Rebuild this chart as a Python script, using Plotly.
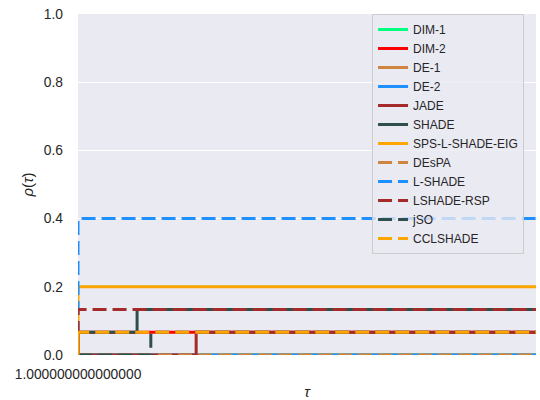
import plotly.graph_objects as go

# Performance profile: each solver's rho(tau) as a right-continuous step function.
tau_min = 1.0
tau_max = 2.0

names = ["DIM-1", "DIM-2", "DE-1", "DE-2", "JADE", "SHADE", "SPS-L-SHADE-EIG",
         "DEsPA", "L-SHADE", "LSHADE-RSP", "jSO", "CCLSHADE"]

# breakpoints (tau) and the profile value reached at each breakpoint
dim1_tau, dim1_rho = [1.0], [0.0]
dim2_tau, dim2_rho = [1.0], [0.0667]
de1_tau, de1_rho = [1.0], [0.0]
de2_tau, de2_rho = [1.0], [0.0]
jade_tau, jade_rho = [1.0, 1.258], [0.0, 0.0667]
shade_tau, shade_rho = [1.0, 1.129], [0.0667, 0.1333]
sps_tau, sps_rho = [1.0], [0.2]
despa_tau, despa_rho = [1.0], [0.0]
lshade_tau, lshade_rho = [1.0], [0.4]
lshadersp_tau, lshadersp_rho = [1.0], [0.1333]
jso_tau, jso_rho = [1.0, 1.159], [0.0, 0.0667]
ccl_tau, ccl_rho = [1.0], [0.0667]

all_tau = [dim1_tau, dim2_tau, de1_tau, de2_tau, jade_tau, shade_tau, sps_tau,
           despa_tau, lshade_tau, lshadersp_tau, jso_tau, ccl_tau]
all_rho = [dim1_rho, dim2_rho, de1_rho, de2_rho, jade_rho, shade_rho, sps_rho,
           despa_rho, lshade_rho, lshadersp_rho, jso_rho, ccl_rho]

colors = ["#00FF7F", "#FF0000", "#CD853F", "#1E90FF", "#A52A2A", "#2F4F4F", "#FFA500",
          "#CD853F", "#1E90FF", "#A52A2A", "#2F4F4F", "#FFA500"]
dashes = ["solid"] * 7 + ["14px,6px"] * 5

y_ticks = [0.0, 0.2, 0.4, 0.6, 0.8, 1.0]

fig = go.Figure()
for name, t, r, c, d in zip(names, all_tau, all_rho, colors, dashes):
    xs = [tau_min] + list(t) + [tau_max]
    ys = [0.0] + list(r) + [r[-1]]
    fig.add_trace(go.Scatter(
        x=xs, y=ys, mode="lines", name=name,
        line=dict(color=c, width=3, dash=d, shape="hv"),
    ))

font_family = "Liberation Sans, Arial, DejaVu Sans, sans-serif"
fig.update_layout(
    width=540, height=400,
    margin=dict(l=78, r=4, t=14, b=45),
    paper_bgcolor="white",
    plot_bgcolor="#EAEAF2",
    font=dict(family=font_family, size=13.8, color="#262626"),
    showlegend=True,
    legend=dict(
        x=0.642, y=1.0, xanchor="left", yanchor="top",
        bgcolor="rgba(234,234,242,0.8)", bordercolor="#cccccc", borderwidth=1,
        font=dict(size=12, color="#262626"),
        itemwidth=30, tracegroupgap=0,
    ),
    xaxis=dict(
        range=[tau_min, tau_max], tickvals=[tau_min], ticktext=["1.000000000000000"],
        showgrid=False, zeroline=False, showline=False, ticks="", ticklabelstandoff=9,
        automargin=False,
        title=dict(text="<i>τ</i>", font=dict(size=15), standoff=12),
    ),
    yaxis=dict(
        range=[0, 1.0], tickvals=y_ticks, ticktext=[f"{v:.1f}" for v in y_ticks],
        showgrid=True, gridcolor="white", gridwidth=1.2,
        zeroline=False, showline=False, ticks="", ticklabelstandoff=14,
        automargin=False,
        title=dict(text="<i>ρ</i>(<i>τ</i>)", font=dict(size=15), standoff=6),
    ),
)

fig.write_html("out.html")
